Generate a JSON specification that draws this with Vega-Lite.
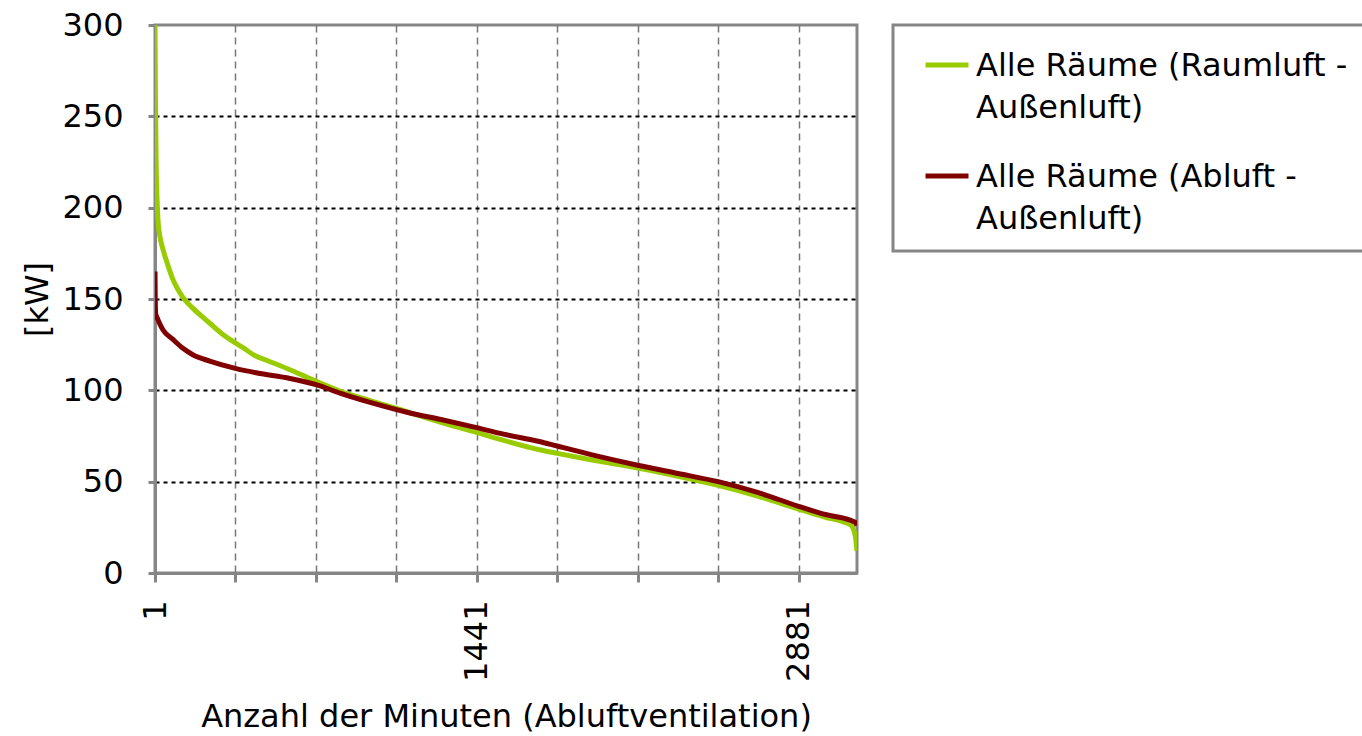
{
  "$schema": "https://vega.github.io/schema/vega-lite/v6.json",
  "width": 702,
  "height": 548,
  "autosize": {"type": "none"},
  "padding": {"left": 155, "top": 25, "right": 505, "bottom": 163},
  "background": "white",
  "config": {
    "font": "DejaVu Sans",
    "view": {"stroke": "#868686", "strokeWidth": 3},
    "axis": {
      "labelFont": "DejaVu Sans",
      "titleFont": "DejaVu Sans",
      "labelFontSize": 32,
      "titleFontSize": 32,
      "labelColor": "black",
      "titleColor": "black",
      "titleFontWeight": "normal",
      "domainColor": "#868686",
      "domainWidth": 3,
      "tickColor": "#868686",
      "tickWidth": 3,
      "tickSize": 9
    }
  },
  "data": {
    "values": [
      {"minute": 1, "kW": 300, "series": "Alle Räume (Raumluft - Außenluft)"},
      {"minute": 3, "kW": 260, "series": "Alle Räume (Raumluft - Außenluft)"},
      {"minute": 6, "kW": 225, "series": "Alle Räume (Raumluft - Außenluft)"},
      {"minute": 10, "kW": 205, "series": "Alle Räume (Raumluft - Außenluft)"},
      {"minute": 15, "kW": 192, "series": "Alle Räume (Raumluft - Außenluft)"},
      {"minute": 25, "kW": 183, "series": "Alle Räume (Raumluft - Außenluft)"},
      {"minute": 37, "kW": 177, "series": "Alle Räume (Raumluft - Außenluft)"},
      {"minute": 60, "kW": 168, "series": "Alle Räume (Raumluft - Außenluft)"},
      {"minute": 80, "kW": 161, "series": "Alle Räume (Raumluft - Außenluft)"},
      {"minute": 100, "kW": 156, "series": "Alle Räume (Raumluft - Außenluft)"},
      {"minute": 125, "kW": 151, "series": "Alle Räume (Raumluft - Außenluft)"},
      {"minute": 170, "kW": 145, "series": "Alle Räume (Raumluft - Außenluft)"},
      {"minute": 230, "kW": 138.5, "series": "Alle Räume (Raumluft - Außenluft)"},
      {"minute": 300, "kW": 131, "series": "Alle Räume (Raumluft - Außenluft)"},
      {"minute": 360, "kW": 126, "series": "Alle Räume (Raumluft - Außenluft)"},
      {"minute": 400, "kW": 123, "series": "Alle Räume (Raumluft - Außenluft)"},
      {"minute": 440, "kW": 119.5, "series": "Alle Räume (Raumluft - Außenluft)"},
      {"minute": 500, "kW": 116.5, "series": "Alle Räume (Raumluft - Außenluft)"},
      {"minute": 610, "kW": 111, "series": "Alle Räume (Raumluft - Außenluft)"},
      {"minute": 730, "kW": 104.5, "series": "Alle Räume (Raumluft - Außenluft)"},
      {"minute": 830, "kW": 99.5, "series": "Alle Räume (Raumluft - Außenluft)"},
      {"minute": 960, "kW": 94.5, "series": "Alle Räume (Raumluft - Außenluft)"},
      {"minute": 1085, "kW": 90, "series": "Alle Räume (Raumluft - Außenluft)"},
      {"minute": 1200, "kW": 85.5, "series": "Alle Räume (Raumluft - Außenluft)"},
      {"minute": 1280, "kW": 82.5, "series": "Alle Räume (Raumluft - Außenluft)"},
      {"minute": 1425, "kW": 77.5, "series": "Alle Räume (Raumluft - Außenluft)"},
      {"minute": 1550, "kW": 73, "series": "Alle Räume (Raumluft - Außenluft)"},
      {"minute": 1720, "kW": 67.5, "series": "Alle Räume (Raumluft - Außenluft)"},
      {"minute": 1800, "kW": 65.5, "series": "Alle Räume (Raumluft - Außenluft)"},
      {"minute": 1950, "kW": 62, "series": "Alle Räume (Raumluft - Außenluft)"},
      {"minute": 2160, "kW": 57.5, "series": "Alle Räume (Raumluft - Außenluft)"},
      {"minute": 2340, "kW": 53, "series": "Alle Räume (Raumluft - Außenluft)"},
      {"minute": 2520, "kW": 48, "series": "Alle Räume (Raumluft - Außenluft)"},
      {"minute": 2700, "kW": 42, "series": "Alle Räume (Raumluft - Außenluft)"},
      {"minute": 2880, "kW": 35, "series": "Alle Räume (Raumluft - Außenluft)"},
      {"minute": 3000, "kW": 30.5, "series": "Alle Räume (Raumluft - Außenluft)"},
      {"minute": 3080, "kW": 28, "series": "Alle Räume (Raumluft - Außenluft)"},
      {"minute": 3115, "kW": 26, "series": "Alle Räume (Raumluft - Außenluft)"},
      {"minute": 3128, "kW": 23, "series": "Alle Räume (Raumluft - Außenluft)"},
      {"minute": 3135, "kW": 19, "series": "Alle Räume (Raumluft - Außenluft)"},
      {"minute": 3141, "kW": 12, "series": "Alle Räume (Raumluft - Außenluft)"},
      {"minute": 1, "kW": 165, "series": "Alle Räume (Abluft - Außenluft)"},
      {"minute": 2, "kW": 150, "series": "Alle Räume (Abluft - Außenluft)"},
      {"minute": 4, "kW": 142, "series": "Alle Räume (Abluft - Außenluft)"},
      {"minute": 10, "kW": 140, "series": "Alle Räume (Abluft - Außenluft)"},
      {"minute": 20, "kW": 137, "series": "Alle Räume (Abluft - Außenluft)"},
      {"minute": 37, "kW": 133, "series": "Alle Räume (Abluft - Außenluft)"},
      {"minute": 80, "kW": 128, "series": "Alle Räume (Abluft - Außenluft)"},
      {"minute": 126, "kW": 123, "series": "Alle Räume (Abluft - Außenluft)"},
      {"minute": 170, "kW": 119.5, "series": "Alle Räume (Abluft - Außenluft)"},
      {"minute": 246, "kW": 116, "series": "Alle Räume (Abluft - Außenluft)"},
      {"minute": 360, "kW": 112, "series": "Alle Räume (Abluft - Außenluft)"},
      {"minute": 458, "kW": 109.5, "series": "Alle Räume (Abluft - Außenluft)"},
      {"minute": 605, "kW": 106.5, "series": "Alle Räume (Abluft - Außenluft)"},
      {"minute": 725, "kW": 103, "series": "Alle Räume (Abluft - Außenluft)"},
      {"minute": 828, "kW": 98.5, "series": "Alle Räume (Abluft - Außenluft)"},
      {"minute": 975, "kW": 93, "series": "Alle Räume (Abluft - Außenluft)"},
      {"minute": 1128, "kW": 88, "series": "Alle Räume (Abluft - Außenluft)"},
      {"minute": 1280, "kW": 84, "series": "Alle Räume (Abluft - Außenluft)"},
      {"minute": 1425, "kW": 80, "series": "Alle Räume (Abluft - Außenluft)"},
      {"minute": 1560, "kW": 76, "series": "Alle Räume (Abluft - Außenluft)"},
      {"minute": 1720, "kW": 72, "series": "Alle Räume (Abluft - Außenluft)"},
      {"minute": 1800, "kW": 69.5, "series": "Alle Räume (Abluft - Außenluft)"},
      {"minute": 1980, "kW": 64, "series": "Alle Räume (Abluft - Außenluft)"},
      {"minute": 2160, "kW": 59, "series": "Alle Räume (Abluft - Außenluft)"},
      {"minute": 2340, "kW": 54.5, "series": "Alle Räume (Abluft - Außenluft)"},
      {"minute": 2520, "kW": 50, "series": "Alle Räume (Abluft - Außenluft)"},
      {"minute": 2700, "kW": 44, "series": "Alle Räume (Abluft - Außenluft)"},
      {"minute": 2880, "kW": 36.5, "series": "Alle Räume (Abluft - Außenluft)"},
      {"minute": 3000, "kW": 32, "series": "Alle Räume (Abluft - Außenluft)"},
      {"minute": 3080, "kW": 30, "series": "Alle Räume (Abluft - Außenluft)"},
      {"minute": 3120, "kW": 28.5, "series": "Alle Räume (Abluft - Außenluft)"},
      {"minute": 3135, "kW": 27.5, "series": "Alle Räume (Abluft - Außenluft)"},
      {"minute": 3141, "kW": 26, "series": "Alle Räume (Abluft - Außenluft)"}
    ]
  },
  "mark": {"type": "line", "strokeWidth": 5, "clip": true, "interpolate": "monotone"},
  "encoding": {
    "x": {
      "field": "minute",
      "type": "quantitative",
      "scale": {"domain": [1, 3141], "nice": false, "zero": false},
      "axis": {
        "title": "Anzahl der Minuten (Abluftventilation)",
        "values": [1, 361, 721, 1081, 1441, 1801, 2161, 2521, 2881],
        "format": "d",
        "labelExpr": "datum.value == 1 || datum.value == 1441 || datum.value == 2881 ? datum.label : ''",
        "labelAngle": -90,
        "labelPadding": 18,
        "labelFlush": false,
        "labelOverlap": false,
        "titlePadding": 20,
        "grid": true,
        "gridColor": "#777777",
        "gridWidth": 1.5,
        "gridDash": [7, 5],
        "gridOpacity": {"condition": {"test": "datum.value == 1", "value": 0}, "value": 1}
      }
    },
    "y": {
      "field": "kW",
      "type": "quantitative",
      "scale": {"domain": [0, 300], "nice": false},
      "axis": {
        "title": "[kW]",
        "values": [0, 50, 100, 150, 200, 250, 300],
        "labelPadding": 25,
        "tickSize": 7,
        "titlePadding": 7,
        "grid": true,
        "gridColor": "black",
        "gridWidth": 2,
        "gridDash": [4, 4],
        "gridOpacity": {"condition": {"test": "datum.value == 0 || datum.value == 300", "value": 0}, "value": 1}
      }
    },
    "color": {
      "field": "series",
      "type": "nominal",
      "sort": ["Alle Räume (Raumluft - Außenluft)", "Alle Räume (Abluft - Außenluft)"],
      "scale": {
        "domain": ["Alle Räume (Raumluft - Außenluft)", "Alle Räume (Abluft - Außenluft)"],
        "range": ["#99cc00", "#800000"]
      },
      "legend": {
        "title": null,
        "orient": "none",
        "legendX": 738,
        "legendY": 0,
        "padding": 16,
        "strokeColor": "#868686",
        "fillColor": "white",
        "symbolType": "stroke",
        "symbolSize": 1849,
        "symbolStrokeWidth": 5,
        "symbolOffset": 14,
        "labelFont": "DejaVu Sans",
        "labelFontSize": 32,
        "labelColor": "black",
        "labelLimit": 600,
        "labelOffset": 5,
        "labelBaseline": "alphabetic",
        "labelExpr": "split(replace(datum.label, ' - ', ' -|'), '|')",
        "rowPadding": 28,
        "encode": {
          "legend": {"update": {"strokeWidth": {"value": 3}}},
          "labels": {"update": {"dy": {"value": 11}, "lineHeight": {"value": 42}}}
        }
      }
    }
  }
}
